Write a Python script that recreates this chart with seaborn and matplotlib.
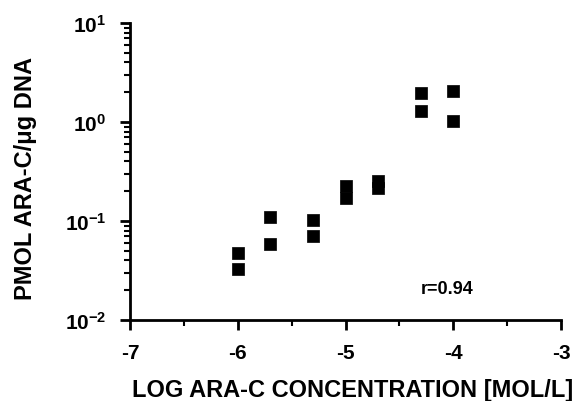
import matplotlib
matplotlib.use("Agg")
import matplotlib.pyplot as plt
import numpy as np
import pandas as pd
import seaborn as sns
from matplotlib.ticker import FixedLocator, LogLocator, NullFormatter

# Values (two replicates per concentration)
log_conc = [-6.0, -6.0, -5.7, -5.7, -5.3, -5.3, -5.0, -5.0, -4.7, -4.7, -4.3, -4.3, -4.0, -4.0]
pmol_per_ug = [0.048, 0.033, 0.111, 0.058, 0.102, 0.070, 0.224, 0.169, 0.252, 0.214, 1.95, 1.28, 2.04, 1.02]

x_ticks = [-7, -6, -5, -4, -3]
y_ticks = [1e-2, 1e-1, 1e0, 1e1]
y_tick_labels = [r"$\mathbf{10^{-2}}$", r"$\mathbf{10^{-1}}$", r"$\mathbf{10^{0}}$", r"$\mathbf{10^{1}}$"]

df = pd.DataFrame({"log_conc": log_conc, "pmol": pmol_per_ug})

sns.set_style("ticks")
plt.rcParams["font.family"] = ["Liberation Sans", "DejaVu Sans"]
plt.rcParams["font.weight"] = "bold"
plt.rcParams["axes.unicode_minus"] = False
plt.rcParams["mathtext.fontset"] = "custom"
plt.rcParams["mathtext.rm"] = "Liberation Sans:bold"
plt.rcParams["mathtext.bf"] = "Liberation Sans:bold"
for key in ["text.color", "axes.labelcolor", "xtick.color", "ytick.color", "axes.edgecolor"]:
    plt.rcParams[key] = "black"

fig = plt.figure(figsize=(5.81, 4.02), dpi=100)
ax = fig.add_axes([0.2238, 0.2015, 0.9656 - 0.2238, 0.9403 - 0.2015])

sns.scatterplot(data=df, x="log_conc", y="pmol", marker="s", s=65,
                color="black", edgecolor="black", linewidth=0.5, ax=ax)

ax.set_yscale("log")
ax.set_xlim(-7, -3)
ax.set_ylim(1e-2, 1e1)

ax.set_xticks(x_ticks)
ax.set_xticklabels([str(t) for t in x_ticks])
ax.xaxis.set_minor_locator(FixedLocator([-6.5, -5.5, -4.5, -3.5]))
ax.set_yticks(y_ticks)
ax.set_yticklabels(y_tick_labels)
ax.yaxis.set_minor_locator(LogLocator(base=10, subs=np.arange(2, 10)))
ax.yaxis.set_minor_formatter(NullFormatter())

ax.tick_params(axis="both", which="major", direction="out", length=7, width=2, labelsize=15)
ax.tick_params(axis="x", which="major", pad=9.5)
ax.tick_params(axis="y", which="major", pad=10)
ax.tick_params(axis="both", which="minor", direction="out", length=4, width=1.5)

for side in ["left", "bottom"]:
    ax.spines[side].set_linewidth(2)
sns.despine(ax=ax)

ax.set_xlabel("LOG ARA-C CONCENTRATION [MOL/L]", fontsize=17, fontweight="bold")
ax.set_ylabel("PMOL ARA-C/\u03bcg DNA", fontsize=17, fontweight="bold")
ax.xaxis.set_label_coords(0.516, -0.195)
ax.yaxis.set_label_coords(-0.216, 0.48)

ax.text(-4.06, 0.021, "r=0.94", fontsize=13, fontweight="bold", ha="center", va="center")

fig.savefig("out.png", dpi=100)
